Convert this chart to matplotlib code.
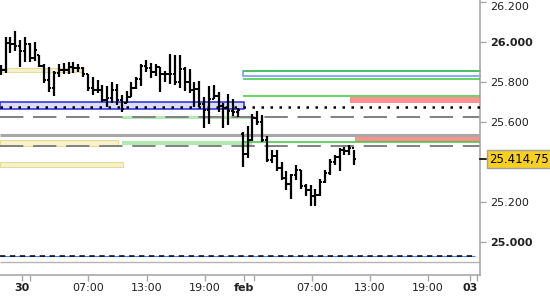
import matplotlib
matplotlib.use("Agg")
import matplotlib.pyplot as plt
import matplotlib.transforms as mtransforms
import numpy as np
from matplotlib.ticker import FixedLocator

# 30 minute bars, 30 jan -> 2 feb (x = bar number)
highs = [25885, 26025, 26025, 26055, 26010, 26025, 25995, 26000, 25935, 25890,
         25875, 25855, 25890, 25895, 25900, 25900, 25890, 25875, 25840, 25825,
         25810, 25785, 25780, 25800, 25790, 25735, 25755, 25800, 25825, 25890,
         25910, 25895, 25890, 25875, 25855, 25940, 25935, 25935, 25875, 25865,
         25800, 25805, 25725, 25780, 25785, 25750, 25695, 25740, 25715, 25670,
         25550, 25580, 25640, 25655, 25635, 25530, 25460, 25460, 25400, 25355,
         25340, 25385, 25360, 25290, 25285, 25265, 25315, 25360, 25415, 25435,
         25470, 25475, 25485, 25460]
lows = [25835, 25845, 25945, 25955, 25875, 25900, 25900, 25905, 25875, 25795,
        25750, 25730, 25825, 25840, 25840, 25845, 25850, 25825, 25755, 25735,
        25745, 25700, 25675, 25695, 25685, 25650, 25695, 25725, 25765, 25780,
        25850, 25820, 25830, 25750, 25800, 25790, 25785, 25770, 25755, 25745,
        25675, 25675, 25570, 25590, 25715, 25650, 25570, 25585, 25630, 25625,
        25375, 25420, 25505, 25585, 25500, 25400, 25395, 25355, 25310, 25260,
        25215, 25310, 25265, 25230, 25180, 25180, 25230, 25295, 25335, 25385,
        25355, 25435, 25435, 25385]
opens = [25850, 25860, 25995, 25990, 25980, 25955, 25990, 25920, 25935, 25880,
         25810, 25770, 25845, 25860, 25860, 25875, 25870, 25870, 25840, 25770,
         25760, 25760, 25710, 25720, 25760, 25710, 25695, 25725, 25770, 25815,
         25880, 25870, 25850, 25875, 25840, 25840, 25840, 25800, 25865, 25800,
         25760, 25765, 25690, 25660, 25715, 25730, 25680, 25670, 25655, 25650,
         25540, 25440, 25510, 25620, 25600, 25510, 25410, 25430, 25370, 25320,
         25290, 25335, 25360, 25280, 25260, 25230, 25235, 25300, 25345, 25400,
         25425, 25460, 25455, 25470]
closes = [25860, 25995, 25990, 25980, 25955, 25990, 25920, 25960, 25880, 25810,
          25770, 25845, 25860, 25860, 25875, 25870, 25870, 25840, 25770, 25760,
          25760, 25710, 25720, 25760, 25710, 25665, 25725, 25770, 25815, 25880,
          25870, 25850, 25875, 25840, 25840, 25840, 25800, 25865, 25800, 25760,
          25765, 25690, 25660, 25715, 25730, 25680, 25670, 25655, 25650, 25660,
          25440, 25510, 25620, 25600, 25510, 25410, 25430, 25370, 25320, 25290,
          25335, 25360, 25280, 25260, 25230, 25235, 25300, 25345, 25400, 25425,
          25460, 25455, 25470, 25414.75]
last_price = 25414.75

# support / resistance levels
yellow_lo = [25850, 25480, 25375]
yellow_hi = [25870, 25510, 25400]
yellow_end = [17.0, 24.2, 25.3]
lgreen_lo = [25614, 25486]
lgreen_hi = [25631, 25505]
blue_zone = [25665, 25700]
sky_zone = [25832, 25855]
green_levels = [25857, 25815, 25730, 25500]
red_lo = [25695, 25500]
red_hi = [25725, 25530]
red_start = [72.2, 73.2]
dotted_level = 25675
dashed_levels = [25625, 25480]
gray_level = 25535
bottom_dash = 24930
bottom_gray = 24900

x_ticks = [4.4, 18.0, 30.2, 42.2, 50.3, 64.3, 76.3, 88.3, 97.0]
x_labels = ["30", "07:00", "13:00", "19:00", "feb", "07:00", "13:00", "19:00", "03"]
x_minor = [6.05, 52.3, 98.4]
y_ticks = [25000, 25200, 25600, 25800, 26000, 26200]

X0, X1 = -0.15, 99.0
feb_start = 50.1

fig = plt.figure(figsize=(5.5, 3.0), dpi=100)
ax = fig.add_axes([0, 25 / 300, 480 / 550, 275 / 300])
ax.set_xlim(X0, X1)
ax.set_ylim(24835, 26210)

# zones
for lo, hi, end in zip(yellow_lo, yellow_hi, yellow_end):
    ax.fill_between([X0, end], lo, hi, facecolor="#f6f2cc", edgecolor="#e6dc9a", lw=0.8, zorder=1)
for lo, hi in zip(lgreen_lo, lgreen_hi):
    ax.fill_between([25.1, 52.0], lo, hi, facecolor="#b2e8b2", edgecolor="none", zorder=1)
ax.fill_between([X0, 50.3], blue_zone[0], blue_zone[1], facecolor="#dcdcf6", edgecolor="#2828e0", lw=1.1, zorder=2)
ax.fill_between([feb_start, X1 + 1], sky_zone[0], sky_zone[1], facecolor="white", edgecolor="#6a96ec", lw=1.1, zorder=2)
for lo, hi, start in zip(red_lo, red_hi, red_start):
    ax.fill_between([start, X1 + 1], lo, hi, facecolor="#ff9090", edgecolor="none", zorder=1)

# level lines
ax.hlines(gray_level, X0, X1, color="#a8a8a8", lw=2.2, zorder=2)
ax.hlines(dashed_levels, X0, X1, color="#808080", lw=1.4, linestyles=[(0, (12, 5))], zorder=2)
ax.hlines(green_levels, feb_start, X1, color="#3cc83c", lw=1.1, zorder=3)
ax.hlines(dotted_level, X0, X1, color="black", lw=1.8, linestyles=[(0, (1, 2.6))], zorder=3)
ax.hlines(bottom_gray, X0, X1, color="#b4b4b4", lw=1.0, zorder=2)
ax.hlines(bottom_dash, X0, 98.0, color="#4a7ee0", lw=0.8, zorder=2)
ax.hlines(bottom_dash, X0, 98.0, color="black", lw=1.1, linestyles=[(0, (3.5, 3))], zorder=3)

# OHLC bars
xs = np.arange(len(highs))
ax.vlines(xs, lows, highs, color="black", lw=1.6, zorder=5)
ax.hlines(opens, xs - 0.45, xs, color="black", lw=1.4, zorder=5)
ax.hlines(closes, xs, xs + 0.45, color="black", lw=1.4, zorder=5)

# axes look
for side in ["left", "top"]:
    ax.spines[side].set_visible(False)
for side in ["right", "bottom"]:
    ax.spines[side].set_color("#a8a8a8")
    ax.spines[side].set_linewidth(1.2)

ax.yaxis.tick_right()
ax.set_yticks(y_ticks)
ax.set_yticklabels([f"{v:,.0f}".replace(",", ".") for v in y_ticks])
ax.tick_params(axis="y", length=4, width=1, color="#a8a8a8", pad=3, labelsize=8, labelcolor="#202020")
for lab in ax.get_yticklabels():
    if lab.get_text() in ("26.000", "25.000"):
        lab.set_fontweight("bold")
    if lab.get_text() == "26.200":
        # nudge the top label down a little so it is not clipped
        shift = mtransforms.ScaledTranslation(0, -3 / 72, fig.dpi_scale_trans)
        lab.set_transform(lab.get_transform() + shift)

ax.xaxis.set_major_locator(FixedLocator(x_ticks))
ax.xaxis.set_minor_locator(FixedLocator(x_minor))
ax.set_xticklabels(x_labels)
ax.tick_params(axis="x", which="both", length=4, width=1, color="#a8a8a8", pad=2, labelsize=8, labelcolor="#202020")
for lab in ax.get_xticklabels():
    if lab.get_text() in ("30", "feb", "03"):
        lab.set_fontweight("bold")

# last price marker
ax.plot([X1, X1 + 1.3], [last_price, last_price], color="black", lw=1.2, clip_on=False, zorder=6)
fig.text(489 / 550, 1 - 159 / 300, "25.414,75", fontsize=8.5, color="black", va="center", ha="left",
         bbox=dict(boxstyle="square,pad=0.2", facecolor="#f8d020", edgecolor="#a0a0a0", lw=1))

fig.savefig("out.png", dpi=100)
